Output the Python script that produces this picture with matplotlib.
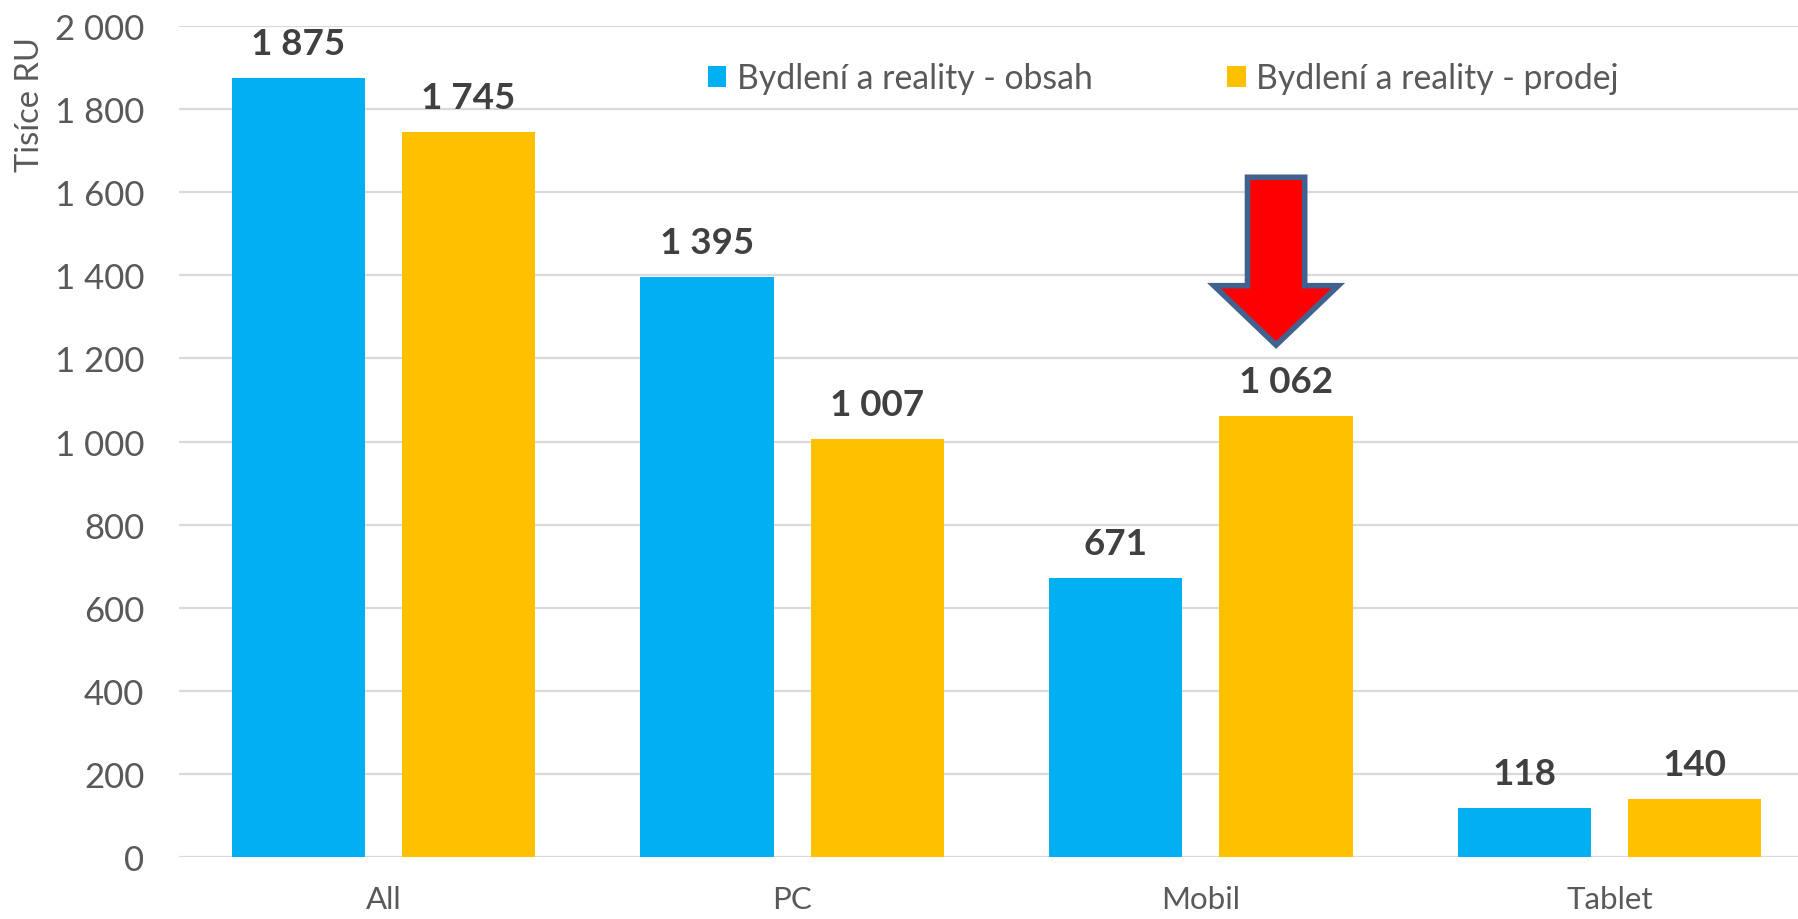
import matplotlib
matplotlib.use('Agg')
import matplotlib.pyplot as plt
from matplotlib.patches import Polygon
import numpy as np

categories = ['All', 'PC', 'Mobil', 'Tablet']
obsah = [1875, 1395, 671, 118]
prodej = [1745, 1007, 1062, 140]
series_names = ['Bydlení a reality - obsah', 'Bydlení a reality - prodej']
y_ticks = [0, 200, 400, 600, 800, 1000, 1200, 1400, 1600, 1800, 2000]
highlight = 2  # Mobil, prodej gets the arrow

plt.rcParams['font.family'] = ['Lato', 'DejaVu Sans']

fig = plt.figure(figsize=(17.99, 9.20), dpi=100)
# plot area runs a little past the right edge of the image, as in the source
ax = fig.add_axes([179 / 1799, 62 / 920, 1635 / 1799, 831 / 920])

x = np.arange(len(categories))
w = 0.326
off = 0.208
b1 = ax.bar(x - off, obsah, w, color='#00B0F0', label=series_names[0], zorder=3)
b2 = ax.bar(x + off, prodej, w, color='#FFC000', label=series_names[1], zorder=3)

for bars, vals in ((b1, obsah), (b2, prodej)):
    for r, v in zip(bars, vals):
        ax.annotate(f'{v:,}'.replace(',', ' '), (r.get_x() + r.get_width() / 2, v),
                    xytext=(0, 13), textcoords='offset points', ha='center', va='bottom',
                    fontsize=26.5, fontweight='bold', color='#404040')

# block arrow above the Mobil / prodej bar (sits slightly left of the bar centre)
cx = highlight + off - 0.024
top = prodej[highlight]
tip, neck, tail = top + 170, top + 313, top + 574
sw, hw = 0.07, 0.152
arrow = Polygon([(cx - sw, tail), (cx + sw, tail), (cx + sw, neck), (cx + hw, neck),
                 (cx, tip), (cx - hw, neck), (cx - sw, neck)],
                closed=True, facecolor='#FF0000', edgecolor='#41618F', linewidth=4,
                joinstyle='miter', zorder=5)
ax.add_patch(arrow)

ax.set_xlim(-0.5, len(categories) - 0.5)
ax.set_ylim(0, 2000)
ax.set_yticks(y_ticks)
ax.set_yticklabels([f'{t:,}'.replace(',', ' ') for t in y_ticks])
ax.set_xticks(x)
ax.set_xticklabels(categories)
ax.tick_params(axis='both', length=0, labelcolor='#595959')
ax.tick_params(axis='y', pad=25, labelsize=25)
ax.tick_params(axis='x', pad=20, labelsize=22.5)
ax.grid(axis='y', color='#D9D9D9', linewidth=1.6, zorder=0)
for s in ax.spines.values():
    s.set_visible(False)

fig.text(30 / 1799, 1 - 105 / 920, 'Tisíce RU', rotation=90, ha='center', va='center',
         fontsize=23.5, color='#595959')

ax.legend(loc='center', bbox_to_anchor=(0.602, 0.937), ncol=2, frameon=False,
          fontsize=24.3, labelcolor='#595959', handlelength=0.55, handleheight=0.55,
          handletextpad=0.3, columnspacing=4.0)

fig.savefig('out.png', dpi=100)
